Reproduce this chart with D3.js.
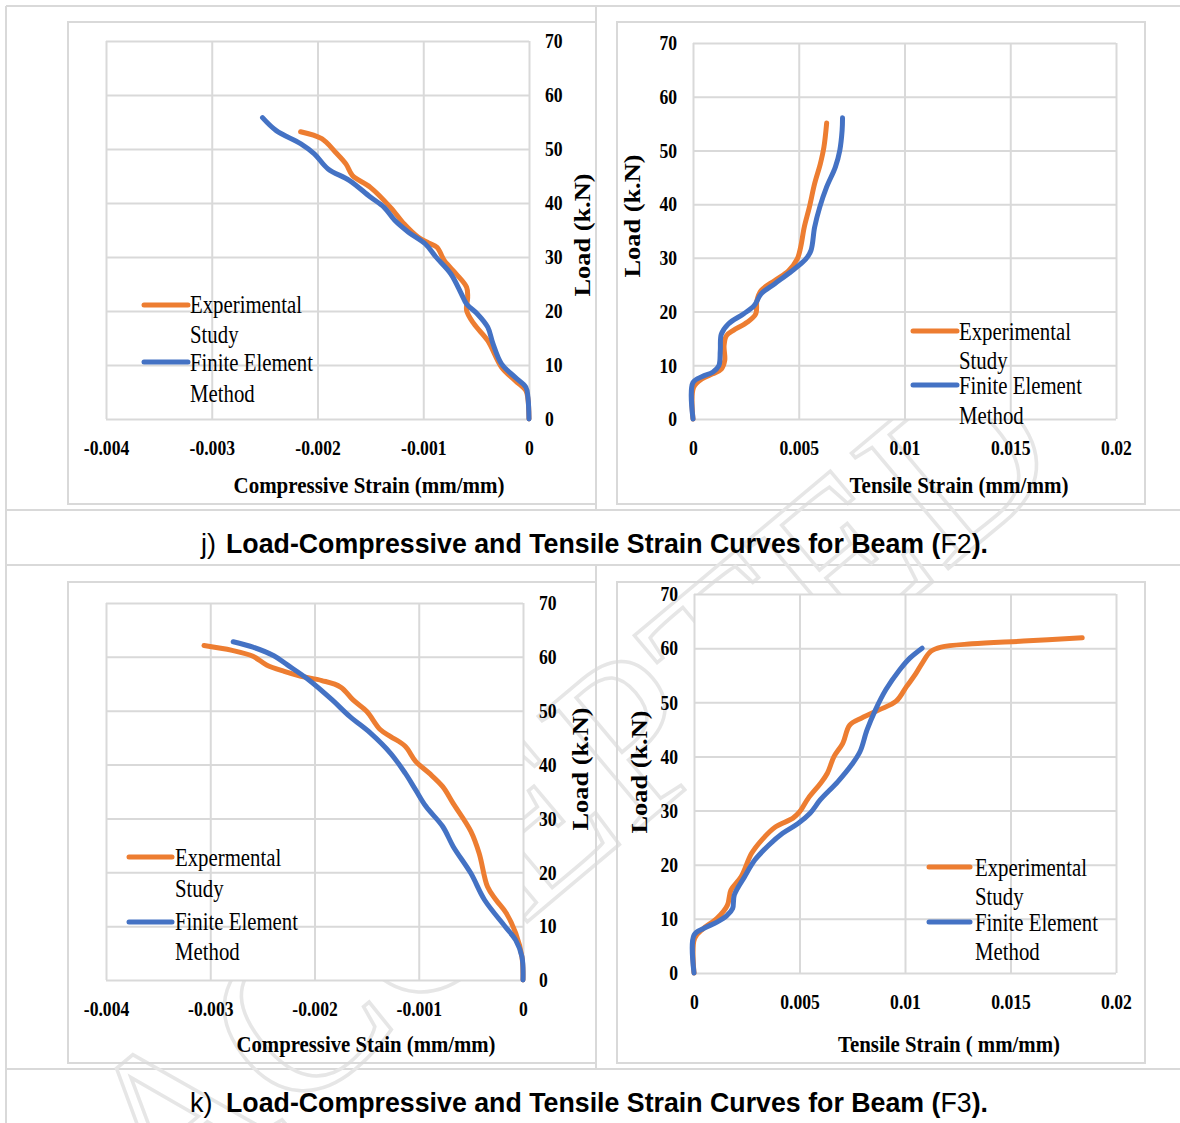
<!DOCTYPE html>
<html>
<head>
<meta charset="utf-8">
<script src="https://cdn.jsdelivr.net/npm/d3@7"></script>
<style>
  body { margin: 0; background: #fff; }
  svg { display: block; }
</style>
</head>
<body>
<svg id="chart" width="1180" height="1123"></svg>
<script>
// ---- data: [strain (mm/mm), load (kN)] ----
const jCompExp = [[-0.00216,53.2],[-0.00196,51.9],[-0.00183,49.4],[-0.00173,47.2],[-0.00167,45.1],[-0.00150,42.9],[-0.00131,39.2],[-0.00118,36.1],[-0.00105,33.7],[-0.00095,32.6],[-0.00087,31.8],[-0.00080,29.3],[-0.00069,26.9],[-0.00059,24.4],[-0.00058,22.5],[-0.00059,20.1],[-0.00052,17.6],[-0.00039,14.5],[-0.00026,9.6],[-0.00013,7.1],[-0.00003,5.3],[-0.00001,3.7],[0,0]];
const jCompFem = [[-0.00252,55.8],[-0.00239,53.4],[-0.00216,51.0],[-0.00203,49.1],[-0.00190,46.3],[-0.00170,44.2],[-0.00150,41.1],[-0.00137,39.2],[-0.00127,36.8],[-0.00114,34.6],[-0.00098,32.4],[-0.00088,30.0],[-0.00074,26.9],[-0.00064,23.2],[-0.00059,21.3],[-0.00049,19.5],[-0.00039,17.0],[-0.00034,13.9],[-0.00026,10.2],[-0.00013,7.7],[-0.00003,5.9],[-0.00001,4.0],[0,0]];

const jTensExp = [[0,0],[0.00003,5.9],[0.00044,7.5],[0.00093,8.4],[0.00134,9.3],[0.00150,10.9],[0.00147,13.7],[0.00158,15.5],[0.00191,16.5],[0.00256,18.0],[0.00297,19.6],[0.00302,22.0],[0.00322,23.9],[0.00387,25.8],[0.00452,27.6],[0.00493,29.8],[0.00509,32.0],[0.00526,35.7],[0.00550,39.4],[0.00575,43.8],[0.00602,47.5],[0.00619,50.6],[0.00632,55.1]];
const jTensFem = [[0,0],[0,6.8],[0.00044,7.9],[0.00093,8.7],[0.00122,9.9],[0.00129,12.7],[0.00134,15.8],[0.00167,17.7],[0.00240,19.6],[0.00289,21.1],[0.00322,23.3],[0.00387,25.2],[0.00469,27.6],[0.00534,29.8],[0.00558,31.4],[0.00575,35.7],[0.00599,39.4],[0.00632,43.2],[0.00673,46.9],[0.00694,50.0],[0.00705,53.7],[0.00707,56.1]];

const kCompExp = [[-0.00306,62.1],[-0.00279,61.2],[-0.00259,60.1],[-0.00246,58.5],[-0.00229,57.3],[-0.00213,56.4],[-0.00193,55.6],[-0.00175,54.4],[-0.00163,52.0],[-0.00150,49.9],[-0.00137,46.5],[-0.00127,45.2],[-0.00113,43.4],[-0.00103,40.6],[-0.00090,38.4],[-0.00077,35.9],[-0.00067,32.8],[-0.00050,27.6],[-0.00042,23.5],[-0.00034,17.3],[-0.00026,14.9],[-0.00016,12.4],[-0.00007,8.7],[-0.00001,4.3],[0,0]];
const kCompFem = [[-0.00278,62.8],[-0.00259,61.8],[-0.00239,60.2],[-0.00226,58.5],[-0.00206,55.8],[-0.00183,52.0],[-0.00166,48.9],[-0.00146,45.8],[-0.00127,42.1],[-0.00113,38.4],[-0.00103,35.3],[-0.00093,32.2],[-0.00077,28.5],[-0.00067,24.8],[-0.00050,19.8],[-0.00037,14.9],[-0.00017,9.9],[-0.00007,7.4],[-0.00001,4.3],[0,0]];

const kTensExp = [[0,0],[0.00003,6.4],[0.00044,8.2],[0.00109,10.1],[0.00158,12.5],[0.00175,15.3],[0.00224,17.8],[0.00273,22.1],[0.00322,24.6],[0.00387,27.0],[0.00469,28.6],[0.00501,29.8],[0.00542,32.3],[0.00599,35.0],[0.00632,36.9],[0.00664,40.0],[0.00705,42.4],[0.00738,45.8],[0.00795,47.1],[0.00877,48.6],[0.00958,50.2],[0.01007,52.9],[0.01048,55.1],[0.01081,57.2],[0.01122,59.4],[0.01171,60.2],[0.01318,60.8],[0.01562,61.3],[0.01840,61.9]];
const kTensFem = [[0,0],[0,7.0],[0.00044,8.2],[0.00109,9.4],[0.00158,10.7],[0.00183,11.9],[0.00191,14.4],[0.00240,17.8],[0.00289,20.9],[0.00354,23.6],[0.00420,25.8],[0.00493,27.6],[0.00550,29.5],[0.00599,32.0],[0.00681,35.3],[0.00746,38.4],[0.00787,40.9],[0.00820,44.9],[0.00860,48.6],[0.00909,52.3],[0.00975,56.0],[0.01024,58.2],[0.01081,60.0]];

// ---- ticks and labels ----
const compTicks = [-0.004, -0.003, -0.002, -0.001, 0];
const tensTicks = [0, 0.005, 0.01, 0.015, 0.02];
const loadTicks = [0, 10, 20, 30, 40, 50, 60, 70];
const legendStd = ['Experimental', 'Study', 'Finite Element', 'Method'];
const legendTypo = ['Expermental', 'Study', 'Finite Element', 'Method'];
const yTitle = 'Load (k.N)';

const svg = d3.select('#chart');
const serif = '"Liberation Serif", "Times New Roman", serif';
const sans = '"Liberation Sans", Arial, sans-serif';
const orange = '#ED7D31';
const blue = '#4472C4';
const gridColor = '#d9d9d9';

// table rules of the page layout
const table = svg.append('g').attr('stroke', gridColor).attr('stroke-width', 2);
[[6, 6, 1180, 6], [6, 510, 1180, 510], [6, 565, 1180, 565], [6, 1069, 1180, 1069],
 [6, 6, 6, 1123], [596, 6, 596, 510], [596, 565, 596, 1069]].forEach(l => {
    table.append('line').attr('x1', l[0]).attr('y1', l[1]).attr('x2', l[2]).attr('y2', l[3]);
});

// faint watermark, mostly hidden behind the plot areas
svg.append('text')
    .attr('transform', 'translate(160,1230) rotate(-40)')
    .attr('font-family', serif)
    .attr('font-size', 230)
    .attr('fill', 'none')
    .attr('stroke', '#e6e6e6')
    .attr('stroke-width', 3.5)
    .text('ACCEPTED');

const panels = [
    { box: [68, 22, 596, 504], plot: [106, 41, 529, 419], xDomain: [-0.004, 0], xTicks: compTicks,
      ySide: 'right', yTitlePos: [590, 235], xTitle: 'Compressive Strain (mm/mm)', xTitlePos: [369, 493], xTitleLen: 271,
      legend: { x0: 144, x1: 188, tx: 190, base: [313, 343, 371, 402], sw: [305, 362], labels: legendStd },
      exp: jCompExp, fem: jCompFem },
    { box: [617, 22, 1145, 504], plot: [693, 43, 1116, 419], xDomain: [0, 0.02], xTicks: tensTicks,
      ySide: 'left', yTitlePos: [640, 216], xTitle: 'Tensile Strain (mm/mm)', xTitlePos: [959, 493], xTitleLen: 219,
      legend: { x0: 913, x1: 957, tx: 959, base: [340, 369, 394, 424], sw: [331, 385], labels: legendStd },
      exp: jTensExp, fem: jTensFem },
    { box: [68, 582, 596, 1063], plot: [106, 603, 523, 980], xDomain: [-0.004, 0], xTicks: compTicks,
      ySide: 'right', yTitlePos: [588, 769], xTitle: 'Compressive Stain (mm/mm)', xTitlePos: [366, 1052], xTitleLen: 259,
      legend: { x0: 129, x1: 172, tx: 175, base: [866, 897, 930, 960], sw: [857, 922], labels: legendTypo },
      exp: kCompExp, fem: kCompFem },
    { box: [617, 582, 1145, 1063], plot: [694, 594, 1116, 973], xDomain: [0, 0.02], xTicks: tensTicks,
      ySide: 'left', yTitlePos: [647, 772], xTitle: 'Tensile Strain ( mm/mm)', xTitlePos: [949, 1052], xTitleLen: 222,
      legend: { x0: 929, x1: 970, tx: 975, base: [876, 905, 931, 960], sw: [867, 922], labels: legendStd },
      exp: kTensExp, fem: kTensFem }
];

function drawPanel(p) {
    const [bx0, by0, bx1, by1] = p.box;
    const [l, t, r, b] = p.plot;

    svg.append('rect')
        .attr('x', bx0).attr('y', by0)
        .attr('width', bx1 - bx0).attr('height', by1 - by0)
        .attr('fill', 'none')
        .attr('stroke', gridColor)
        .attr('stroke-width', 2);

    const x = d3.scaleLinear().domain(p.xDomain).range([l, r]);
    const y = d3.scaleLinear().domain([0, 70]).range([b, t]);

    svg.append('rect')
        .attr('x', l).attr('y', t)
        .attr('width', r - l).attr('height', b - t)
        .attr('fill', '#fff');

    // gridlines (they also form the plot border)
    const grid = svg.append('g');
    grid.append('g')
        .attr('transform', `translate(0,${b})`)
        .call(d3.axisBottom(x).tickValues(p.xTicks).tickSize(-(b - t)).tickFormat(''));
    grid.append('g')
        .attr('transform', `translate(${l},0)`)
        .call(d3.axisLeft(y).tickValues(loadTicks).tickSize(-(r - l)).tickFormat(''));
    grid.selectAll('.domain').remove();
    grid.selectAll('line').attr('stroke', gridColor).attr('stroke-width', 2);

    // x tick labels
    const xAx = svg.append('g')
        .attr('transform', `translate(0,${b})`)
        .call(d3.axisBottom(x).tickValues(p.xTicks).tickSize(0).tickFormat(d => String(d)));
    xAx.select('.domain').remove();
    xAx.selectAll('text')
        .attr('y', 0).attr('dy', 0)
        .attr('transform', 'translate(0,36) scale(0.88,1)')
        .attr('font-family', serif).attr('font-size', 20).attr('font-weight', 'bold')
        .attr('fill', '#000');

    // y tick labels
    const right = p.ySide === 'right';
    const yAx = svg.append('g')
        .attr('transform', `translate(${right ? r : l},0)`)
        .call((right ? d3.axisRight(y) : d3.axisLeft(y)).tickValues(loadTicks).tickSize(0).tickFormat(d => String(d)));
    yAx.select('.domain').remove();
    yAx.selectAll('text')
        .attr('x', 0).attr('dy', '0.34em')
        .attr('text-anchor', right ? 'start' : 'end')
        .attr('transform', `translate(${right ? 16 : -16},0) scale(0.88,1)`)
        .attr('font-family', serif).attr('font-size', 20).attr('font-weight', 'bold')
        .attr('fill', '#000');

    // axis titles
    svg.append('text')
        .attr('x', p.xTitlePos[0]).attr('y', p.xTitlePos[1])
        .attr('text-anchor', 'middle')
        .attr('font-family', serif).attr('font-size', 24).attr('font-weight', 'bold')
        .attr('textLength', p.xTitleLen).attr('lengthAdjust', 'spacingAndGlyphs')
        .style('white-space', 'pre')
        .text(p.xTitle);
    svg.append('text')
        .attr('transform', `translate(${p.yTitlePos[0]},${p.yTitlePos[1]}) rotate(-90)`)
        .attr('text-anchor', 'middle')
        .attr('font-family', serif).attr('font-size', 24).attr('font-weight', 'bold')
        .attr('textLength', 123).attr('lengthAdjust', 'spacingAndGlyphs')
        .text(yTitle);

    // series
    const line = d3.line()
        .x(d => x(d[0]))
        .y(d => y(d[1]))
        .curve(d3.curveCatmullRom.alpha(0.5));
    [[p.exp, orange], [p.fem, blue]].forEach(([data, color]) => {
        svg.append('path')
            .datum(data)
            .attr('fill', 'none')
            .attr('stroke', color)
            .attr('stroke-width', 5)
            .attr('stroke-linejoin', 'round')
            .attr('stroke-linecap', 'round')
            .attr('d', line);
    });

    // legend
    const lg = p.legend;
    [[lg.sw[0], orange], [lg.sw[1], blue]].forEach(([yy, color]) => {
        svg.append('line')
            .attr('x1', lg.x0).attr('x2', lg.x1)
            .attr('y1', yy).attr('y2', yy)
            .attr('stroke', color).attr('stroke-width', 5)
            .attr('stroke-linecap', 'round');
    });
    lg.labels.forEach((txt, i) => {
        svg.append('text')
            .attr('transform', `translate(${lg.tx},${lg.base[i]}) scale(0.8,1)`)
            .attr('font-family', serif).attr('font-size', 26)
            .attr('fill', '#000')
            .text(txt);
    });
}

panels.forEach(drawPanel);

// captions under each row
function caption(prefix, prefixX, tag, baseY) {
    svg.append('text')
        .attr('x', prefixX).attr('y', baseY)
        .attr('font-family', sans).attr('font-size', 27)
        .text(prefix);
    const t = svg.append('text')
        .attr('x', 226).attr('y', baseY)
        .attr('font-family', sans).attr('font-size', 27)
        .attr('textLength', 762).attr('lengthAdjust', 'spacingAndGlyphs');
    t.append('tspan').attr('font-weight', 'bold').text('Load-Compressive and Tensile Strain Curves for Beam (');
    t.append('tspan').text(tag);
    t.append('tspan').attr('font-weight', 'bold').text(').');
}
caption('j)', 201, 'F2', 553);
caption('k)', 190, 'F3', 1112);
</script>
</body>
</html>
